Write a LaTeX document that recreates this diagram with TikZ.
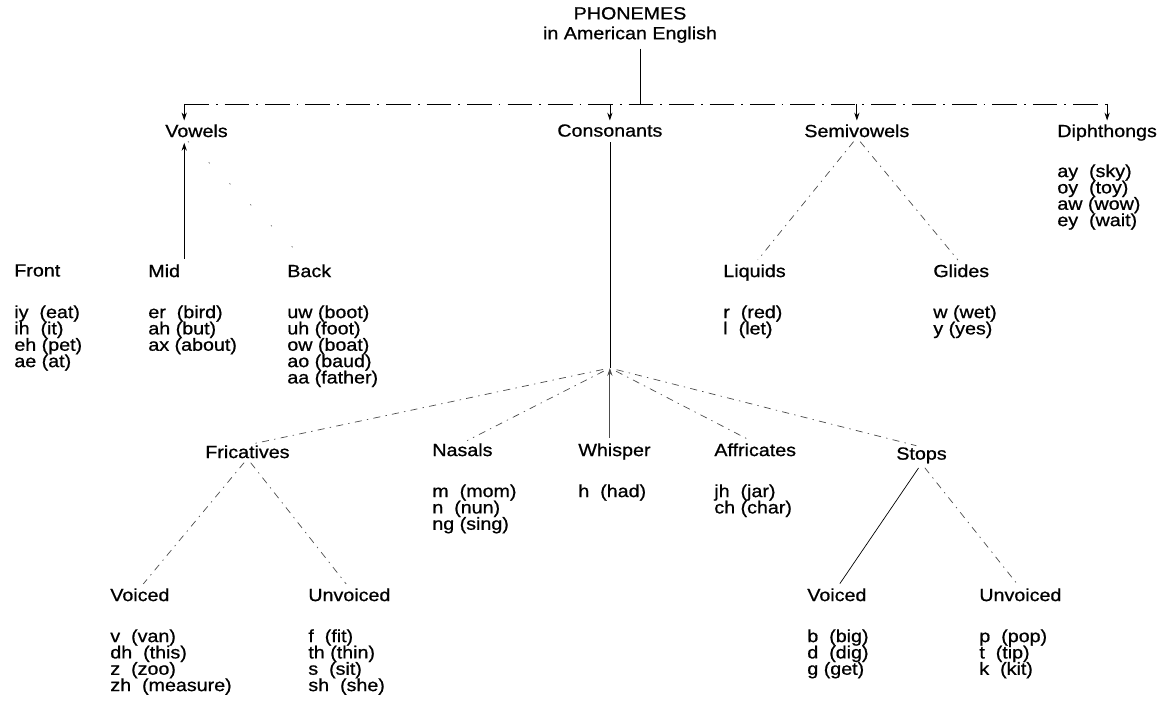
\documentclass[tikz,border=0pt]{standalone}
\usepackage{fontspec}
\setmainfont[FakeStretch=1.12,FakeBold=0.8]{Liberation Sans}
\usetikzlibrary{arrows.meta}
\setlength{\lineskiplimit}{-10pt}
\begin{document}
\begin{tikzpicture}[x=0.02cm,y=-0.02cm,font=\fontsize{10}{9.3}\selectfont,
	hd/.style={anchor=north west,inner sep=0pt},
	lst/.style={anchor=north west,inner sep=0pt,align=left},
	link/.style={line width=0.4pt,shorten <=3pt,shorten >=3pt},
	faint/.style={link,black!70,dash pattern=on 4pt off 3pt on 0.8pt off 3pt},
	sparse/.style={link,black!55,dash pattern=on 0.8pt off 16pt},
	>={Stealth[length=4.5pt,width=3pt]}]
	\useasboundingbox (0,0) rectangle (1167,706);
	\node[align=center,inner sep=0pt,font=\fontsize{10}{11.3}\selectfont] (top) at (630,25) {PHONEMES\\in American English};
	\node[hd] (vowels) at (165,124) {Vowels};
	\node[hd] (cons) at (557,124) {Consonants};
	\node[hd] (semi) at (804,124) {Semivowels};
	\node[hd] (diph) at (1057,124) {Diphthongs};
	\node[lst] (diphlist) at (1057,164) {ay~ (sky)\\oy~ (toy)\\aw (wow)\\ey~ (wait)};
	\node[hd] (front) at (14,264) {Front};
	\node[hd] (mid) at (148,264) {Mid};
	\node[hd] (back) at (287,264) {Back};
	\node[hd] (liquids) at (723,264) {Liquids};
	\node[hd] (glides) at (933,264) {Glides};
	\node[lst] (frontlist) at (14,305) {iy~ (eat)\\ih~ (it)\\eh (pet)\\ae (at)};
	\node[lst] (midlist) at (148,305) {er~ (bird)\\ah (but)\\ax (about)};
	\node[lst] (backlist) at (287,305) {uw (boot)\\uh (foot)\\ow (boat)\\ao (baud)\\aa (father)};
	\node[lst] (liqlist) at (723,305) {r~ (red)\\l~ (let)};
	\node[lst] (glidelist) at (933,305) {w (wet)\\y (yes)};
	\node[hd] (fric) at (205,445) {Fricatives};
	\node[hd] (nasals) at (432,443) {Nasals};
	\node[hd] (whisper) at (578,443) {Whisper};
	\node[hd] (affr) at (714,443) {Affricates};
	\node[hd] (stops) at (896,447) {Stops};
	\node[lst] (nasallist) at (432,484) {m~ (mom)\\n~ (nun)\\ng (sing)};
	\node[lst] (whisperlist) at (578,484) {h~ (had)};
	\node[lst] (affrlist) at (714,484) {jh~ (jar)\\ch (char)};
	\node[hd] (fvoiced) at (110,588) {Voiced};
	\node[hd] (funvoiced) at (308,588) {Unvoiced};
	\node[hd] (svoiced) at (807,588) {Voiced};
	\node[hd] (sunvoiced) at (979,588) {Unvoiced};
	\node[lst] (fvlist) at (110,629) {v~ (van)\\dh~ (this)\\z~ (zoo)\\zh~ (measure)};
	\node[lst] (fulist) at (308,629) {f~ (fit)\\th (thin)\\s~ (sit)\\sh~ (she)};
	\node[lst] (svlist) at (807,629) {b~ (big)\\d~ (dig)\\g (get)};
	\node[lst] (sulist) at (979,629) {p~ (pop)\\t~ (tip)\\k~ (kit)};

	\coordinate (bus) at (640,104);
	\coordinate (vx) at ([xshift=-7pt]vowels.south);
	\coordinate (cj) at (cons.south |- 0,368);

	\draw[line width=0.4pt,shorten <=3pt] (top.south -| bus) -- (bus);
	\draw[line width=0.4pt,dash pattern=on 14pt off 4pt on 1pt off 4pt] (bus -| vx) -- (bus -| diph.north);
	\draw[line width=0.4pt,->] (bus -| vx) -- ([yshift=2pt]vowels.north -| vx);
	\draw[line width=0.4pt,->] (bus -| cons.north) -- ([yshift=2pt]cons.north);
	\draw[line width=0.4pt,->] (bus -| semi.north) -- ([yshift=2pt]semi.north);
	\draw[line width=0.4pt,->] (bus -| diph.north) -- ([yshift=2pt]diph.north);
	\draw[link,->] (mid.north -| vx) -- (vx);
	\draw[sparse] (vx) -- (back.north);
	\draw[faint] (semi.south) -- (liquids.north);
	\draw[faint] (semi.south) -- (glides.north);
	\draw[link,shorten >=0pt] (cons.south) -- (cj);
	\draw[link,black!70,line width=0.6pt,shorten >=0pt,->] (whisper.north -| cj) -- (cj);
	\draw[faint,shorten <=4pt] (cj) -- (fric.north);
	\draw[faint,shorten <=4pt] (cj) -- (nasals.north);
	\draw[faint,shorten <=4pt] (cj) -- (affr.north);
	\draw[faint,shorten <=4pt] (cj) -- (stops.north);
	\draw[faint] (fric.south) -- (fvoiced.north);
	\draw[faint] (fric.south) -- (funvoiced.north);
	\draw[link] (stops.south) -- (svoiced.north);
	\draw[faint] (stops.south) -- (sunvoiced.north);
\end{tikzpicture}
\end{document}
